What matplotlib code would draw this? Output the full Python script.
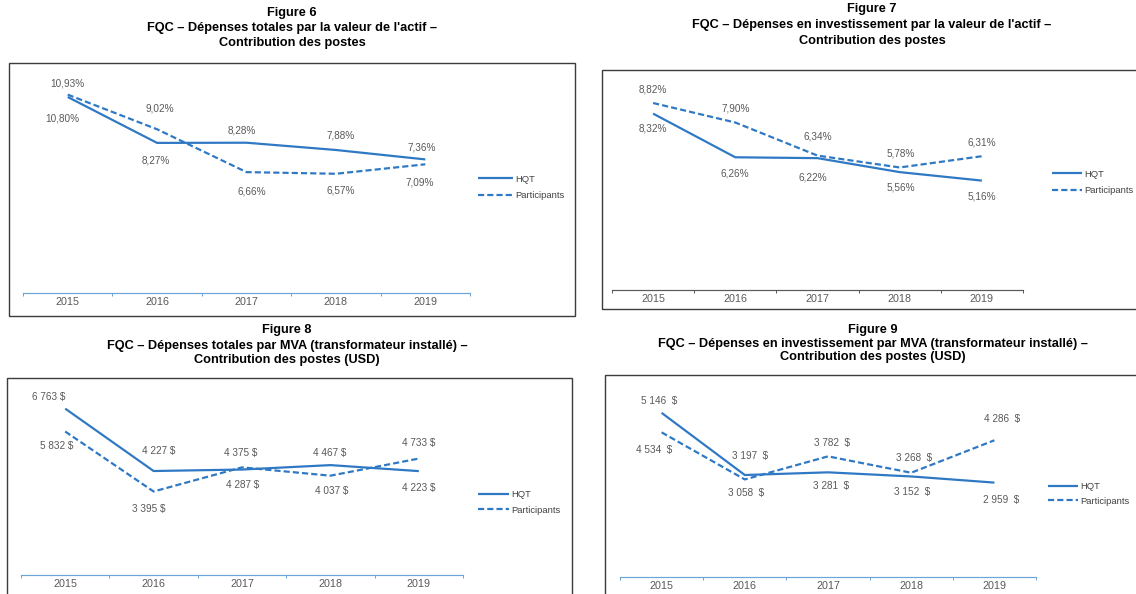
import matplotlib
matplotlib.use('Agg')
import matplotlib.pyplot as plt
from matplotlib.patches import Rectangle
import numpy as np

plt.rcParams['font.family'] = ['Liberation Sans', 'DejaVu Sans']

# Données
years = ['2015', '2016', '2017', '2018', '2019']
series_names = ['HQT', 'Participants']

fig6_hqt = [10.80, 8.27, 8.28, 7.88, 7.36]
fig6_part = [10.93, 9.02, 6.66, 6.57, 7.09]
fig7_hqt = [8.32, 6.26, 6.22, 5.56, 5.16]
fig7_part = [8.82, 7.90, 6.34, 5.78, 6.31]
fig8_hqt = [6763, 4227, 4287, 4467, 4223]
fig8_part = [5832, 3395, 4375, 4037, 4733]
fig9_hqt = [5146, 3197, 3281, 3152, 2959]
fig9_part = [4534, 3058, 3782, 3268, 4286]

titles = {
    6: ['Figure 6', "FQC – Dépenses totales par la valeur de l'actif –", 'Contribution des postes'],
    7: ['Figure 7', "FQC – Dépenses en investissement par la valeur de l'actif –", 'Contribution des postes'],
    8: ['Figure 8', 'FQC – Dépenses totales par MVA (transformateur installé) –', 'Contribution des postes (USD)'],
    9: ['Figure 9', 'FQC – Dépenses en investissement par MVA (transformateur installé) –',
        'Contribution des postes (USD)'],
}

W, H = 1136, 594
BLUE = '#2F78C4'
LIGHT_BLUE = '#6BA5DA'
GREY = '#595959'

fig = plt.figure(figsize=(W / 72, H / 72), dpi=72)
fig.patch.set_facecolor('white')


def pct(v):
    return f'{v:.2f}%'.replace('.', ',')


def usd(v):
    return f'{v:,}'.replace(',', ' ') + ' $'


def usd_wide(v):
    return f'{v:,}'.replace(',', ' ') + '  $'


def draw_panel(num, hqt, part, fmt, box, title_x, title_y, ax_x0, ax_x1, ax_y, y_max, px_per_unit,
               axis_color, leg_x, leg_y, leg_len, leg_space, offsets):
    # cadre
    bx0, by0, bx1, by1 = box
    fig.patches.append(Rectangle((bx0 / W, 1 - by1 / H), (bx1 - bx0) / W, (by1 - by0) / H,
                                 transform=fig.transFigure, fill=False, ec='#3c3c3c', lw=1.4))
    for line, ty in zip(titles[num], title_y):
        fig.text(title_x / W, 1 - ty / H, line, ha='center', va='center', fontsize=12.7,
                 fontweight='bold', color='black')

    y_top = ax_y - y_max * px_per_unit
    ax = fig.add_axes([ax_x0 / W, 1 - ax_y / H, (ax_x1 - ax_x0) / W, (ax_y - y_top) / H])
    ax.patch.set_alpha(0)
    x = np.arange(len(years))
    l1, = ax.plot(x, hqt, color=BLUE, lw=2.2, solid_capstyle='butt', solid_joinstyle='miter')
    l2, = ax.plot(x, part, color=BLUE, lw=2.2, linestyle=(0, (2.8, 1.4)))
    ax.set_xlim(-0.5, len(years) - 0.5)
    ax.set_ylim(0, y_max)

    for s in ['top', 'right', 'left']:
        ax.spines[s].set_visible(False)
    ax.spines['bottom'].set_color(axis_color)
    ax.spines['bottom'].set_linewidth(1.2)
    ax.set_yticks([])
    ax.set_xticks(np.arange(-0.5, len(years), 1))
    ax.set_xticklabels([])
    ax.tick_params(axis='x', which='major', direction='out', length=3, width=1, color=axis_color)
    ax.set_xticks(x, minor=True)
    ax.set_xticklabels(years, minor=True)
    ax.tick_params(axis='x', which='minor', length=0, pad=4, labelsize=10.8, labelcolor=GREY)

    # étiquettes de données
    for vals, offs in zip([hqt, part], offsets):
        for i, (v, (dx, dy)) in enumerate(zip(vals, offs)):
            ax.annotate(fmt(v), xy=(i, v), xytext=(dx, -dy), textcoords='offset points',
                        ha='center', va='center', fontsize=10, color=GREY)

    ax.legend([l1, l2], series_names, loc='center left', bbox_to_anchor=(leg_x / W, 1 - leg_y / H),
              bbox_transform=fig.transFigure, frameon=False, fontsize=9.4, handlelength=leg_len,
              handletextpad=0.25, labelspacing=leg_space, borderpad=0, borderaxespad=0,
              labelcolor='#404040')
    return ax


draw_panel(6, fig6_hqt, fig6_part, pct, box=(9, 63, 575, 316), title_x=292, title_y=(13, 28, 43),
           ax_x0=23, ax_x1=470, ax_y=293, y_max=12, px_per_unit=18.15, axis_color=LIGHT_BLUE,
           leg_x=478, leg_y=187.5, leg_len=3.7, leg_space=0.85,
           offsets=[[(-5, 22), (-1, 18), (-5, -12), (5, -14), (-4, -12)],
                    [(0, -11), (3, -21), (5, 19), (5, 17), (-6, 18)]])

draw_panel(7, fig7_hqt, fig7_part, pct, box=(602, 70, 1145, 309), title_x=872, title_y=(9, 25, 41),
           ax_x0=612, ax_x1=1023, ax_y=290, y_max=10, px_per_unit=21.2, axis_color=GREY,
           leg_x=1052, leg_y=182.5, leg_len=3.2, leg_space=0.85,
           offsets=[[(0, 15), (0, 16), (-5, 19), (1, 15), (0, 16)],
                    [(0, -14), (0, -14), (0, -19), (1, -14), (0, -14)]])

draw_panel(8, fig8_hqt, fig8_part, usd, box=(7, 378, 572, 600), title_x=287, title_y=(330, 346, 360),
           ax_x0=21, ax_x1=463, ax_y=575, y_max=7000, px_per_unit=0.0246, axis_color=LIGHT_BLUE,
           leg_x=478, leg_y=502.5, leg_len=3.3, leg_space=0.7,
           offsets=[[(-17, -12), (5, -20), (1, 15), (-1, -12), (0, 17)],
                    [(-9, 14), (-5, 18), (-1, -14), (1, 15), (0, -16)]])

draw_panel(9, fig9_hqt, fig9_part, usd_wide, box=(605, 375, 1145, 600), title_x=873,
           title_y=(330, 344, 357),
           ax_x0=620, ax_x1=1036, ax_y=577, y_max=6000, px_per_unit=0.0319, axis_color=LIGHT_BLUE,
           leg_x=1048, leg_y=494, leg_len=3.2, leg_space=0.55,
           offsets=[[(-2, -12), (5, -19), (3, 14), (1, 16), (7, 17)],
                    [(-7, 18), (1, 14), (4, -13), (3, -15), (8, -21)]])

fig.savefig('out.png', dpi=72, facecolor='white')
